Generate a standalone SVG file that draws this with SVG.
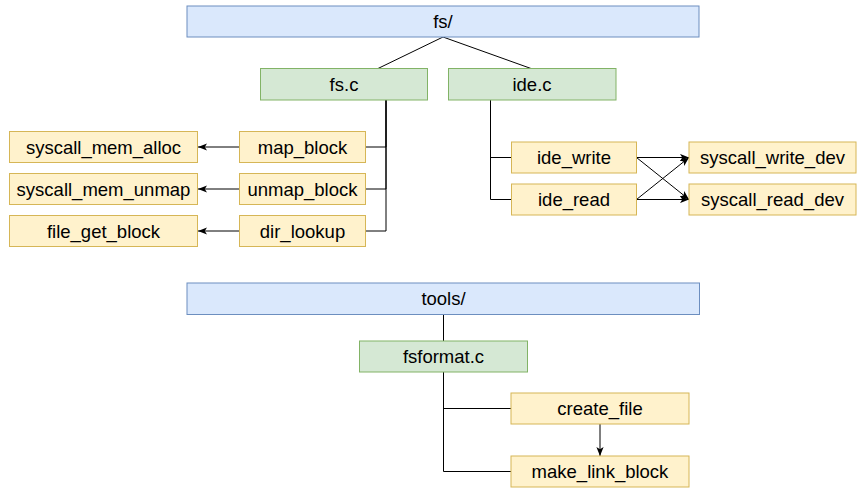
<svg xmlns="http://www.w3.org/2000/svg" width="863" height="494" viewBox="0 0 863 494">
<style>
.blue{fill:#dae8fc;stroke:#6c8ebf;stroke-width:1}
.green{fill:#d5e8d4;stroke:#82b366;stroke-width:1}
.yellow{fill:#fff2cc;stroke:#d6b656;stroke-width:1}
text{font-family:"Liberation Sans",Arial,Helvetica,sans-serif;font-size:18.5px;fill:#000;text-anchor:middle}
.edge{fill:none;stroke:#000;stroke-width:1}
</style>
<defs>
<marker id="arr" viewBox="0 0 10 8" refX="10" refY="4" markerWidth="9" markerHeight="7.2" markerUnits="userSpaceOnUse" orient="auto">
<path d="M0,0 L10,4 L0,8 L2.5,4 z" fill="#000"/>
</marker>
</defs>
<rect width="863" height="494" fill="#fff"/>
<g id="connectors">
<path class="edge" d="M443,37 L378,68.5"/>
<path class="edge" d="M443,37 L531,68.5"/>
<path class="edge" d="M386,100 V147 H366"/>
<path class="edge" d="M386,100 V189 H366"/>
<path class="edge" d="M386,100 V231 H366"/>
<path class="edge" d="M239.5,147 H198" marker-end="url(#arr)"/>
<path class="edge" d="M239.5,189 H198" marker-end="url(#arr)"/>
<path class="edge" d="M239.5,231 H198" marker-end="url(#arr)"/>
<path class="edge" d="M490.5,100 V157.5 H511.5"/>
<path class="edge" d="M490.5,100 V199.5 H511.5"/>
<path class="edge" d="M636.5,157.5 H689" marker-end="url(#arr)"/>
<path class="edge" d="M636.5,157.5 L689,199.5" marker-end="url(#arr)"/>
<path class="edge" d="M636.5,199.5 H689" marker-end="url(#arr)"/>
<path class="edge" d="M636.5,199.5 L689,157.5" marker-end="url(#arr)"/>
<path class="edge" d="M443.5,314.5 V341"/>
<path class="edge" d="M443.5,372 V408.5 H511"/>
<path class="edge" d="M443.5,372 V471.5 H511"/>
<path class="edge" d="M600,424 V456" marker-end="url(#arr)"/>
</g>
<g id="fs_dir"><rect class="blue" x="187" y="6" width="512" height="31"/><text x="443" y="28">fs/</text></g>
<g id="fs_c"><rect class="green" x="260.5" y="68.5" width="167" height="31.5"/><text x="344" y="90.5">fs.c</text></g>
<g id="ide_c"><rect class="green" x="448.5" y="68.5" width="167.5" height="31.5"/><text x="532" y="90.5">ide.c</text></g>
<g id="map_block"><rect class="yellow" x="239.5" y="131.5" width="126" height="31"/><text x="302.5" y="153.5">map_block</text></g>
<g id="unmap_block"><rect class="yellow" x="239.5" y="173.5" width="126" height="31"/><text x="302.5" y="195.5">unmap_block</text></g>
<g id="dir_lookup"><rect class="yellow" x="239.5" y="215.5" width="126" height="31"/><text x="302.5" y="237.5">dir_lookup</text></g>
<g id="syscall_mem_alloc"><rect class="yellow" x="9.5" y="131.5" width="188" height="31"/><text x="103.5" y="153.5">syscall_mem_alloc</text></g>
<g id="syscall_mem_unmap"><rect class="yellow" x="9.5" y="173.5" width="188" height="31"/><text x="103.5" y="195.5">syscall_mem_unmap</text></g>
<g id="file_get_block"><rect class="yellow" x="9.5" y="215.5" width="188" height="31"/><text x="103.5" y="237.5">file_get_block</text></g>
<g id="ide_write"><rect class="yellow" x="511.5" y="142" width="125" height="31"/><text x="574" y="164">ide_write</text></g>
<g id="ide_read"><rect class="yellow" x="511.5" y="184" width="125" height="31"/><text x="574" y="206">ide_read</text></g>
<g id="syscall_write_dev"><rect class="yellow" x="689" y="142" width="167" height="31"/><text x="772.5" y="164">syscall_write_dev</text></g>
<g id="syscall_read_dev"><rect class="yellow" x="689" y="184" width="167" height="31"/><text x="772.5" y="206">syscall_read_dev</text></g>
<g id="tools_dir"><rect class="blue" x="187" y="283" width="512.5" height="31.5"/><text x="443.5" y="305">tools/</text></g>
<g id="fsformat_c"><rect class="green" x="359.5" y="341" width="168" height="31"/><text x="443.5" y="363">fsformat.c</text></g>
<g id="create_file"><rect class="yellow" x="511" y="393" width="178" height="31"/><text x="600" y="415">create_file</text></g>
<g id="make_link_block"><rect class="yellow" x="511" y="456" width="178" height="31"/><text x="600" y="478">make_link_block</text></g>
</svg>
